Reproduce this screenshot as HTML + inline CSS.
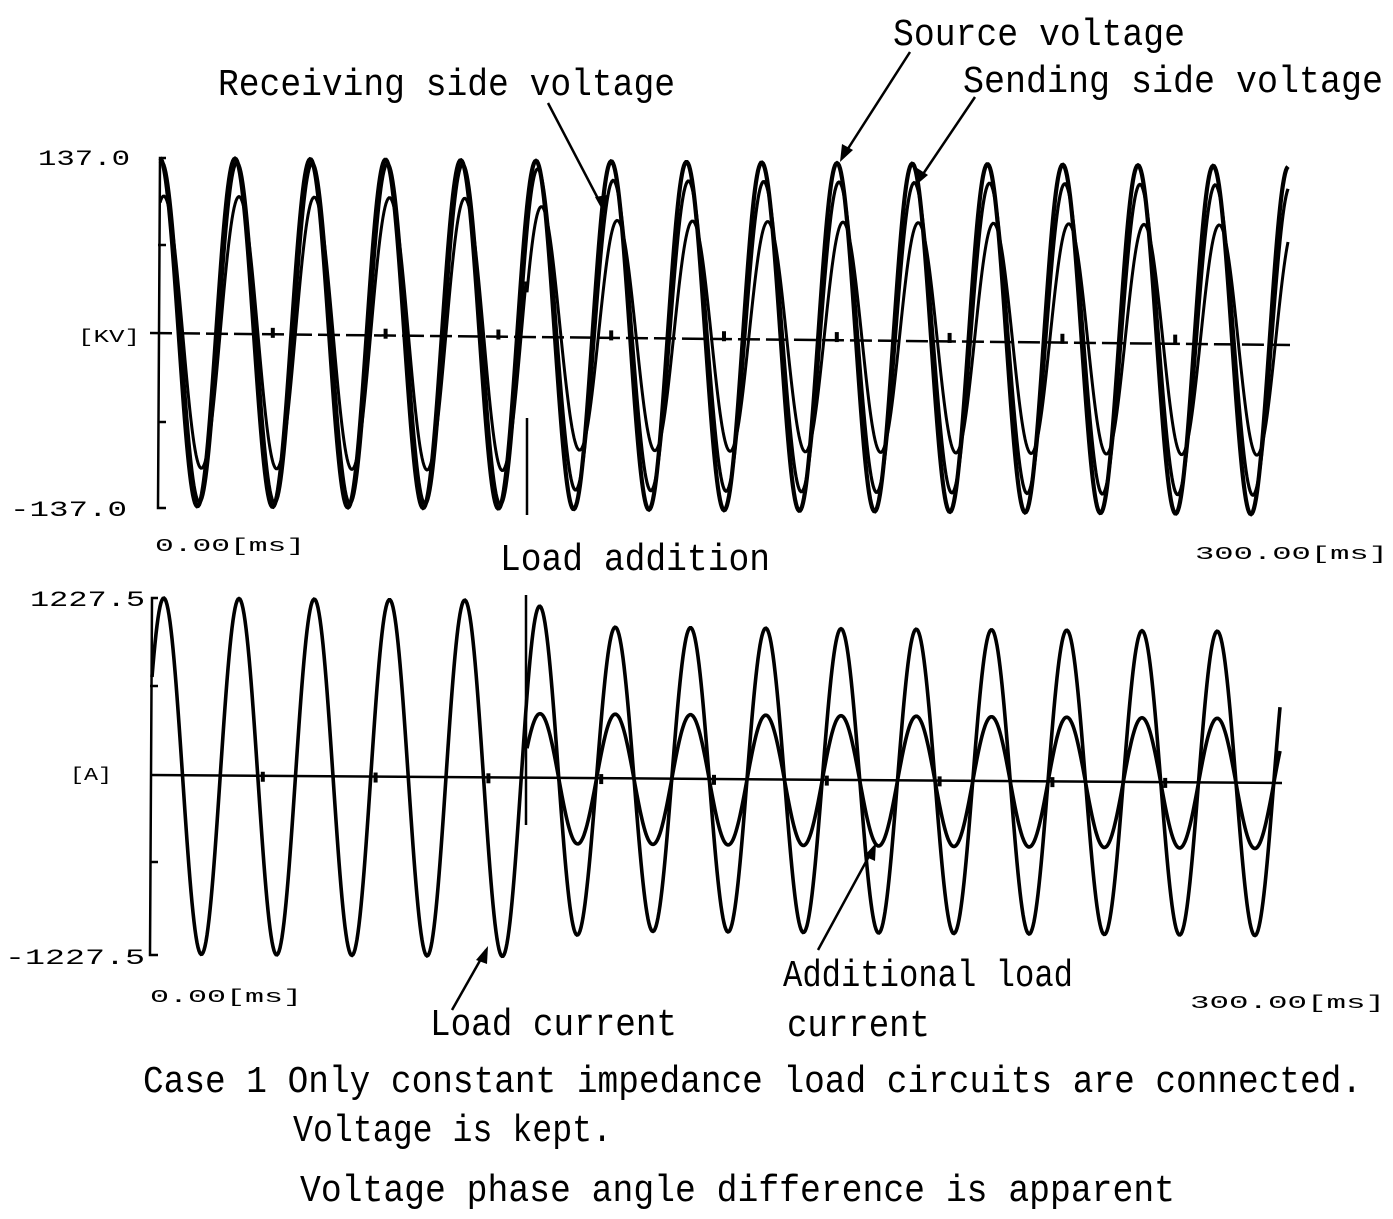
<!DOCTYPE html>
<html><head><meta charset="utf-8"><style>
html,body{margin:0;padding:0;background:#fff;}
svg{display:block;}
text{font-family:"Liberation Mono","DejaVu Sans Mono",monospace;fill:#000;}
</style></head><body>
<svg id="s" width="1393" height="1219" viewBox="0 0 1393 1219" xmlns="http://www.w3.org/2000/svg">
<g id="curves" fill="none" stroke="#000" stroke-width="3"></g>
<g stroke="#000" stroke-width="2.5" fill="none">
<path d="M166,158 L160,158 L158,508 L166,508"/>
<line x1="150" y1="333" x2="1290" y2="345" stroke-dasharray="22,6"/>
<line x1="158" y1="245" x2="166" y2="245"/><line x1="158" y1="422" x2="166" y2="422"/>
<path d="M158,598 L152,598 L150,955 L158,955"/>
<line x1="150" y1="775" x2="1282" y2="783"/>
<line x1="150" y1="686" x2="158" y2="686"/><line x1="150" y1="862" x2="158" y2="862"/>
<line x1="527" y1="418" x2="527" y2="515"/>
<line x1="526" y1="595" x2="526" y2="825"/>
<line x1="548" y1="103" x2="605" y2="212"/>
<line x1="910" y1="52" x2="842" y2="158"/>
<line x1="975" y1="97" x2="917" y2="183"/>
<line x1="452" y1="1010" x2="486" y2="950"/>
<line x1="818" y1="950" x2="874" y2="847"/>
</g>
<g fill="#000">
<polygon points="605,215 595,197 607,195"/>
<polygon points="840,162 842,144 853,150"/>
<polygon points="915,186 917,168 928,175"/>
<polygon points="488,946 476,960 487,964"/>
<polygon points="876,843 864,856 875,861"/>
</g>
<g id="ticks" fill="#000"></g>
<text x="893" y="45" font-size="38" textLength="292" lengthAdjust="spacingAndGlyphs">Source voltage</text>
<text x="218" y="95" font-size="38" textLength="457" lengthAdjust="spacingAndGlyphs">Receiving side voltage</text>
<text x="963" y="92" font-size="38" textLength="420" lengthAdjust="spacingAndGlyphs">Sending side voltage</text>
<text x="38" y="165" font-size="22" textLength="92" lengthAdjust="spacingAndGlyphs">137.0</text>
<text x="78" y="342" font-size="18" textLength="62" lengthAdjust="spacingAndGlyphs">[KV]</text>
<text x="10" y="516" font-size="22" textLength="117" lengthAdjust="spacingAndGlyphs">-137.0</text>
<text x="155" y="551" font-size="18" textLength="150" lengthAdjust="spacingAndGlyphs">0.00[ms]</text>
<text x="1195" y="559" font-size="18" textLength="193" lengthAdjust="spacingAndGlyphs">300.00[ms]</text>
<text x="500" y="570" font-size="38" textLength="270" lengthAdjust="spacingAndGlyphs">Load addition</text>
<text x="30" y="606" font-size="22" textLength="115" lengthAdjust="spacingAndGlyphs">1227.5</text>
<text x="70" y="780" font-size="18" textLength="42" lengthAdjust="spacingAndGlyphs">[A]</text>
<text x="5" y="964" font-size="22" textLength="140" lengthAdjust="spacingAndGlyphs">-1227.5</text>
<text x="150" y="1002" font-size="18" textLength="152" lengthAdjust="spacingAndGlyphs">0.00[ms]</text>
<text x="1190" y="1008" font-size="18" textLength="195" lengthAdjust="spacingAndGlyphs">300.00[ms]</text>
<text x="430" y="1035" font-size="38" textLength="247" lengthAdjust="spacingAndGlyphs">Load current</text>
<text x="783" y="986" font-size="38" textLength="290" lengthAdjust="spacingAndGlyphs">Additional load</text>
<text x="787" y="1036" font-size="38" textLength="143" lengthAdjust="spacingAndGlyphs">current</text>
<text x="143" y="1092" font-size="38" textLength="1219" lengthAdjust="spacingAndGlyphs">Case 1 Only constant impedance load circuits are connected.</text>
<text x="293" y="1141" font-size="38" textLength="319" lengthAdjust="spacingAndGlyphs">Voltage is kept.</text>
<text x="300" y="1201" font-size="38" textLength="875" lengthAdjust="spacingAndGlyphs">Voltage phase angle difference is apparent</text>
</svg>
<script>
(function(){
var g=document.getElementById('curves'),NS='http://www.w3.org/2000/svg';
var P=75.25,L=527;
function add(f,x0,x1,w){var d='';for(var x=x0;x<=x1;x+=1){var y=f(x);d+=(x==x0?'M':'L')+x.toFixed(1)+','+y.toFixed(1);}
var p=document.createElementNS(NS,'path');p.setAttribute('d',d);p.setAttribute('stroke-width',w||3);g.appendChild(p);}
function tc(x){return 332+(x-160)*0.0075;}
function bc(x){return 776+(x-150)*0.0068;}
function c(x,pk){return Math.cos((x-pk)*2*Math.PI/P);}
add(function(x){return tc(x)-174*c(x,235);},160,1288,4.2);
add(function(x){var a=x<L?170:(x<L+40?170-(x-L)/40*15:155);return tc(x)-a*c(x,237);},160,1288,3.2);
add(function(x){var a=x<L?136:(x<L+40?136-(x-L)/40*21:115);var ph=x<L?239:241;return tc(x)-a*c(x,ph);},160,1288,3);
add(function(x){var a=x<L?178:(x<L+60?178-(x-L)/60*26:152);return bc(x)-a*c(x,239);},152,1280,3.6);
add(function(x){return bc(x)-65*c(x,540);},L,1280,3.6);
var t=document.getElementById('ticks');
for(var i=1;i<10;i++){var x=160+i*112.8;var r=document.createElementNS(NS,'rect');r.setAttribute('x',x-2);r.setAttribute('y',tc(x)-5);r.setAttribute('width',4);r.setAttribute('height',10);t.appendChild(r);
var x2=150+i*112.8;var r2=document.createElementNS(NS,'rect');r2.setAttribute('x',x2-2);r2.setAttribute('y',bc(x2)-5);r2.setAttribute('width',4);r2.setAttribute('height',10);t.appendChild(r2);}
})();
</script>
</body></html>
